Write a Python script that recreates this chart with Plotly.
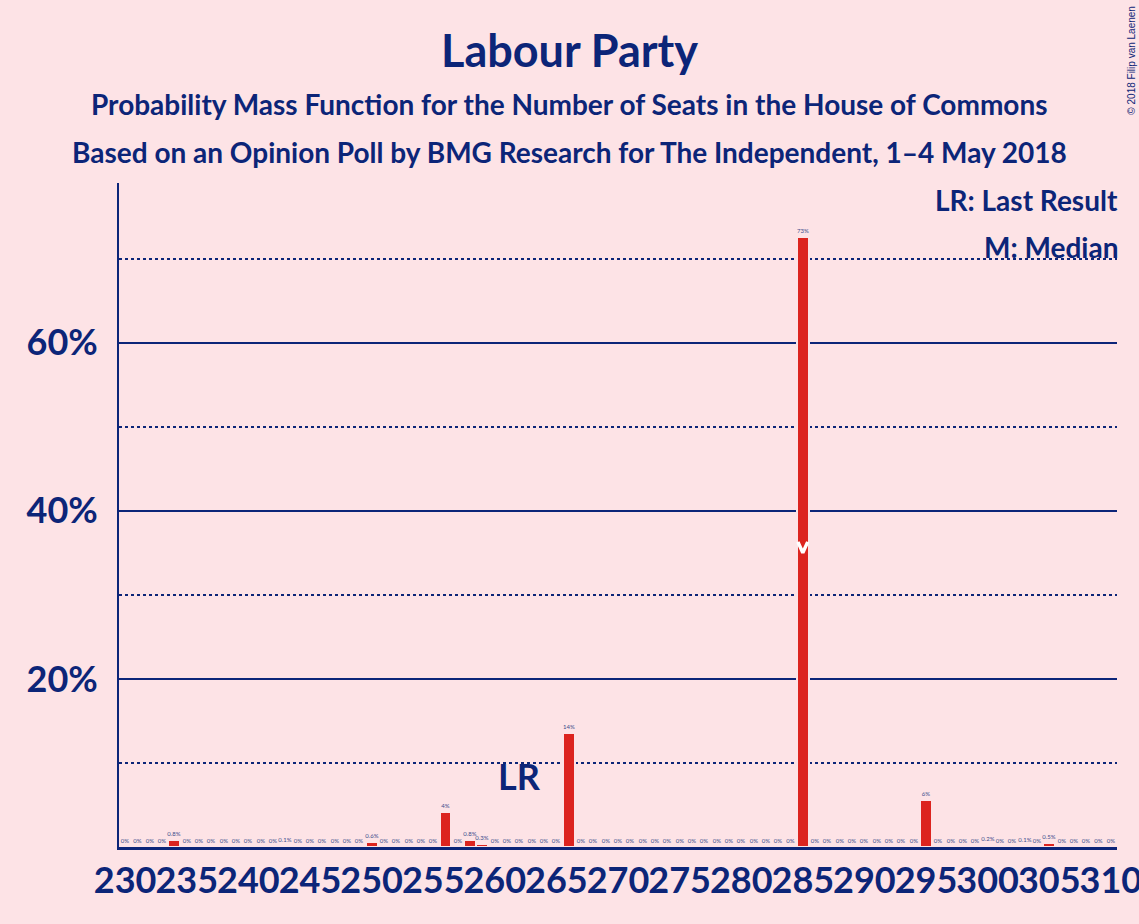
import plotly.graph_objects as go

# seats 230..310 and probability (%) for each
seats = list(range(230, 311))
probs = [
    0, 0, 0, 0, 0.8, 0, 0, 0, 0, 0,          # 230-239
    0, 0, 0, 0.1, 0, 0, 0, 0, 0, 0,          # 240-249
    0.6, 0, 0, 0, 0, 0, 4.2, 0, 0.8, 0.3,    # 250-259
    0, 0, 0, 0, 0, 0, 13.6, 0, 0, 0,         # 260-269
    0, 0, 0, 0, 0, 0, 0, 0, 0, 0,            # 270-279
    0, 0, 0, 0, 0, 72.6, 0, 0, 0, 0,         # 280-289
    0, 0, 0, 0, 0, 5.6, 0, 0, 0, 0,          # 290-299
    0.2, 0, 0, 0.1, 0, 0.5, 0, 0, 0, 0,      # 300-309
    0,                                       # 310
]
last_result = 262
median = 285

x_ticks = list(range(230, 311, 5))
y_major = [20, 40, 60]
y_minor = [10, 30, 50, 70]

BG = "#FDE3E6"
NAVY = "#0C2578"
RED = "#DC241F"
FONT = "Lato"


def fmt(v):
    if v == 0:
        return "0%"
    if v < 1:
        return f"{v:.1f}%"
    return f"{round(v)}%"


fig = go.Figure()

fig.add_trace(go.Bar(
    x=seats,
    y=probs,
    width=0.97,
    marker=dict(color=RED, line=dict(color=BG, width=2)),
    text=[fmt(v) for v in probs],
    textposition="outside",
    textfont=dict(family=FONT, size=6, color="#3A4C8C"),
    constraintext="none",
    cliponaxis=False,
    hoverinfo="x+y",
))

# median marker: white chevron at half the bar height
med_h = probs[seats.index(median)] / 2
fig.add_trace(go.Scatter(
    x=[median - 0.4, median, median + 0.4],
    y=[med_h, med_h - 1.3, med_h],
    mode="lines",
    line=dict(color="white", width=3.5),
    hoverinfo="skip",
))

fig.add_annotation(
    x=last_result, y=8.5, text="LR", showarrow=False,
    font=dict(family=FONT, size=36, color=NAVY, weight="bold"),
)

titles = [
    ("Labour Party", 1.2003, 45),
    ("Probability Mass Function for the Number of Seats in the House of Commons", 1.119, 28),
    ("Based on an Opinion Poll by BMG Research for The Independent, 1–4 May 2018", 1.0467, 28),
]
for txt, yy, sz in titles:
    fig.add_annotation(
        xref="paper", yref="paper", x=450 / 998, y=yy, text=txt,
        showarrow=False, xanchor="center", yanchor="middle",
        font=dict(family=FONT, size=sz, color=NAVY, weight="bold"),
    )

for txt, yy in [("LR: Last Result", 0.974), ("M: Median", 0.9036)]:
    fig.add_annotation(
        xref="paper", yref="paper", x=1.003, y=yy, text=txt,
        showarrow=False, xanchor="right", yanchor="middle",
        font=dict(family=FONT, size=28, color=NAVY, weight="bold"),
    )

fig.add_annotation(
    xref="paper", yref="paper", x=1.0145, y=1.185, text="© 2018 Filip van Laenen",
    showarrow=False, textangle=-90, xanchor="center", yanchor="middle",
    font=dict(family="Liberation Sans", size=10, color=NAVY),
)

fig.update_layout(
    width=1139,
    height=924,
    paper_bgcolor=BG,
    plot_bgcolor=BG,
    showlegend=False,
    bargap=0,
    margin=dict(l=119, r=22, t=183, b=77),
    xaxis=dict(
        range=[229.5, 310.5],
        tickvals=x_ticks,
        ticktext=[str(t) for t in x_ticks],
        tickangle=0,
        ticklabeloverflow="allow",
        tickfont=dict(family=FONT, size=36, color=NAVY, weight="bold"),
        showgrid=False,
        zeroline=False,
        showline=True,
        linecolor=NAVY,
        linewidth=3,
        ticks="",
        automargin=False,
    ),
    yaxis=dict(
        range=[0, 79],
        tickvals=y_major,
        ticktext=[f"{v}%" for v in y_major],
        tickfont=dict(family=FONT, size=36, color=NAVY, weight="bold"),
        showgrid=True,
        gridcolor=NAVY,
        gridwidth=2,
        zeroline=False,
        showline=True,
        linecolor=NAVY,
        linewidth=2,
        ticks="",
        ticklabelstandoff=12,
        automargin=False,
        minor=dict(
            tickvals=y_minor,
            showgrid=True,
            gridcolor=NAVY,
            gridwidth=2,
            griddash="dot",
        ),
    ),
)

fig.write_html(
    "out.html",
    config={"displayModeBar": False},
    post_script="document.body.style.margin='0';",
)
